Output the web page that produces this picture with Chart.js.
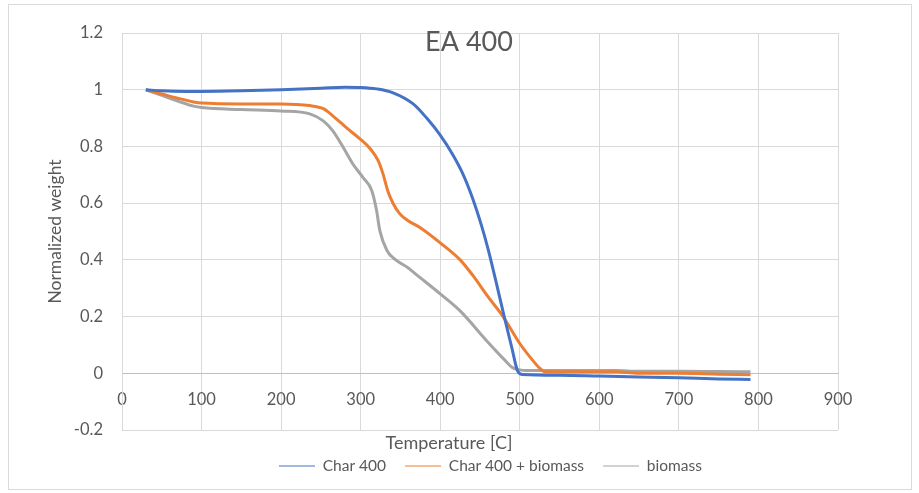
<!DOCTYPE html>
<html>
<head>
<meta charset="utf-8">
<title>EA 400</title>
<script src="https://cdn.jsdelivr.net/npm/chart.js@4"></script>
<style>
  html, body { margin: 0; padding: 0; background: #fff; }
  #wrap { width: 919px; height: 493px; position: relative; }
</style>
</head>
<body>
<div id="wrap"><canvas id="myChart" width="919" height="493"></canvas></div>
<script>
// Dados (temperatura em C, peso normalizado)
const tempChar = [30, 50, 80, 100, 150, 200, 250, 280, 300, 320, 340, 366, 383, 400, 416, 429, 441, 452, 460, 470, 480, 490, 497, 503, 550, 600, 650, 700, 750, 790];
const weightChar = [1.0, 0.996, 0.994, 0.994, 0.996, 1.0, 1.005, 1.009, 1.008, 1.003, 0.99, 0.95, 0.9, 0.84, 0.77, 0.7, 0.615, 0.52, 0.44, 0.325, 0.205, 0.09, 0.01, -0.004, -0.007, -0.01, -0.013, -0.016, -0.02, -0.022];

const tempMix = [30, 50, 70, 90, 100, 150, 200, 236, 253, 265, 282, 299, 312, 322, 328, 334, 341, 349, 359, 374, 400, 425, 441, 460, 479, 500, 515, 525, 532, 560, 600, 620, 650, 700, 750, 790];
const weightMix = [1.0, 0.985, 0.97, 0.957, 0.953, 0.95, 0.95, 0.944, 0.933, 0.908, 0.866, 0.827, 0.792, 0.75, 0.704, 0.644, 0.598, 0.563, 0.539, 0.515, 0.46, 0.4, 0.345, 0.27, 0.2, 0.105, 0.05, 0.018, 0.005, 0.005, 0.005, 0.005, 0.0, 0.0, -0.003, -0.005];

const tempBio = [30, 50, 70, 90, 100, 150, 200, 236, 253, 265, 278, 290, 303, 314, 320, 324, 333, 345, 359, 370, 400, 425, 458, 480, 491, 500, 508, 550, 600, 620, 650, 700, 750, 790];
const weightBio = [1.0, 0.98, 0.96, 0.942, 0.937, 0.93, 0.925, 0.915, 0.89, 0.855, 0.797, 0.739, 0.69, 0.644, 0.574, 0.504, 0.433, 0.398, 0.373, 0.348, 0.28, 0.22, 0.116, 0.05, 0.02, 0.012, 0.01, 0.01, 0.01, 0.01, 0.007, 0.007, 0.006, 0.005];

const seriesNames = ["Char 400", "Char 400 + biomass", "biomass"];
const xTicks = [0, 100, 200, 300, 400, 500, 600, 700, 800, 900];
const yTicks = [-0.2, 0, 0.2, 0.4, 0.6, 0.8, 1, 1.2];

function pares(xs, ys) {
  return xs.map((x, i) => ({ x: x, y: ys[i] }));
}

const cinzaTexto = "#595959";
const cinzaGrade = "#d9d9d9";

// Moldura, titulo, titulo do eixo X e posicao da legenda
const extras = {
  id: "extras",
  afterLayout(chart) {
    // a legenda do Excel fica deslocada para a direita e mais abaixo
    const lg = chart.legend;
    const p = lg.options.labels.padding;
    const inicio = (lg.left + p + lg.right - lg.lineWidths[0]) / 2;
    const dx = 279 - inicio;
    const dy = (466 - p - 7.75) - lg.top;
    lg.left += dx; lg.right += dx;
    lg.top += dy; lg.bottom += dy;
  },
  beforeDraw(chart) {
    const ctx = chart.ctx;
    ctx.save();
    ctx.fillStyle = "#fff";
    ctx.fillRect(0, 0, chart.width, chart.height);
    ctx.strokeStyle = cinzaGrade;
    ctx.lineWidth = 1;
    ctx.strokeRect(8.5, 4.5, 903, 485);
    ctx.restore();
  },
  afterDraw(chart) {
    const ctx = chart.ctx;
    ctx.save();
    ctx.fillStyle = cinzaTexto;
    ctx.textAlign = "center";
    ctx.textBaseline = "middle";
    ctx.font = "27px Lato";
    ctx.fillText("EA 400", 469, 42);
    ctx.font = "18px Lato";
    ctx.fillText("Temperature [C]", 449, 443);
    ctx.restore();
  },
};

const config = {
  type: "line",
  data: {
    datasets: [
      { label: seriesNames[0], data: pares(tempChar, weightChar), borderColor: "#4472C4", backgroundColor: "#4472C4" },
      { label: seriesNames[1], data: pares(tempMix, weightMix), borderColor: "#ED7D31", backgroundColor: "#ED7D31" },
      { label: seriesNames[2], data: pares(tempBio, weightBio), borderColor: "#A5A5A5", backgroundColor: "#A5A5A5" },
    ],
  },
  options: {
    responsive: false,
    animation: false,
    layout: { padding: { left: 0, right: 81, top: 33, bottom: 18.5 } },
    elements: {
      point: { radius: 0 },
      line: { borderWidth: 3, cubicInterpolationMode: "monotone", fill: false },
    },
    plugins: {
      title: { display: false },
      tooltip: { enabled: false },
      legend: {
        display: true,
        position: "bottom",
        labels: {
          usePointStyle: true,
          pointStyle: "line",
          pointStyleWidth: 36,
          padding: 19,
          color: cinzaTexto,
          font: { family: "Lato", size: 15.5 },
        },
      },
    },
    scales: {
      x: {
        type: "linear",
        position: { y: 0 },
        min: 0,
        max: 900,
        afterBuildTicks: (s) => { s.ticks = xTicks.map((v) => ({ value: v })); },
        grid: { color: cinzaGrade, drawTicks: false },
        border: { color: "#bfbfbf" },
        ticks: { color: cinzaTexto, padding: 16, font: { family: "Lato", size: 16.5 } },
      },
      y: {
        min: -0.2,
        max: 1.2,
        afterBuildTicks: (s) => { s.ticks = yTicks.map((v) => ({ value: v })); },
        afterFit: (s) => { s.width = 122; },
        grid: { color: cinzaGrade, drawTicks: false },
        border: { color: cinzaGrade },
        ticks: {
          color: cinzaTexto,
          padding: 19,
          font: { family: "Lato", size: 16.5 },
          callback: (v) => String(Math.round(v * 10) / 10),
        },
        title: {
          display: true,
          text: "Normalized weight",
          color: cinzaTexto,
          font: { family: "Lato", size: 17.5 },
          padding: { top: 45, bottom: 0 },
        },
      },
    },
  },
  plugins: [extras],
};

window.onload = function () {
  const ctx = document.getElementById("myChart").getContext("2d");
  const myChart = new Chart(ctx, config);
};
</script>
</body>
</html>
